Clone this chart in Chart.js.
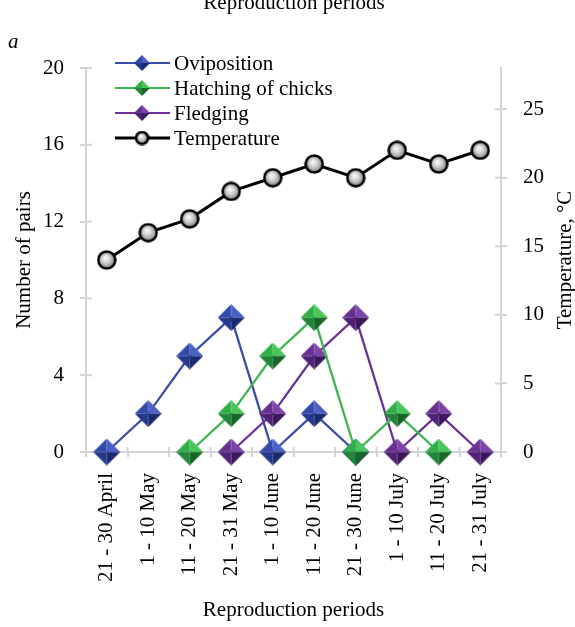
<!DOCTYPE html>
<html>
<head>
<meta charset="utf-8">
<script src="https://cdn.jsdelivr.net/npm/chart.js@4/dist/chart.umd.min.js"></script>
<style>
  html, body { margin: 0; padding: 0; background: #fff; }
  #wrap { position: relative; width: 575px; height: 627px; }
</style>
</head>
<body>
<div id="wrap"><canvas id="chart" width="575" height="627"></canvas></div>
<script>
const periods = ['21 - 30 April', '1 - 10 May', '11 - 20 May', '21 - 31 May', '1 - 10 June',
    '11 - 20 June', '21 - 30 June', '1 - 10 July', '11 - 20 July', '21 - 31 July'];
const oviposition = [0, 2, 5, 7, 0, 2, 0, null, null, null];
const hatching = [null, null, 0, 2, 5, 7, 0, 2, 0, null];
const fledging = [null, null, null, 0, 2, 5, 7, 0, 2, 0];
const temperature = [14, 16, 17, 19, 20, 21, 20, 22, 21, 22];
const pairTicks = [0, 4, 8, 12, 16, 20];
const tempTicks = [0, 5, 10, 15, 20, 25];

const serif = '"Liberation Serif", "Times New Roman", serif';
const axisGray = '#d4d4d4';

// shaded diamond marker, like the pyramid markers in excel
function diamond(size, light, mid, dark, darker) {
    const c = document.createElement('canvas');
    c.width = size; c.height = size;
    const g = c.getContext('2d');
    const h = size / 2;
    const tri = (ax, ay, bx, by, col) => {
        g.beginPath();
        g.moveTo(h, h); g.lineTo(ax, ay); g.lineTo(bx, by); g.closePath();
        g.fillStyle = col; g.fill();
    };
    tri(0, h, h, 0, mid);
    tri(h, 0, size, h, light);
    tri(0, h, h, size, dark);
    tri(h, size, size, h, darker);
    return c;
}

function ball(size) {
    const c = document.createElement('canvas');
    c.width = size; c.height = size;
    const g = c.getContext('2d');
    const r = size / 2 - 1.5;
    const grad = g.createRadialGradient(size * 0.42, size * 0.38, 0, size / 2, size / 2, r);
    grad.addColorStop(0, '#ffffff');
    grad.addColorStop(0.5, '#cfcfcf');
    grad.addColorStop(1, '#7e7e7e');
    g.beginPath();
    g.arc(size / 2, size / 2, r, 0, Math.PI * 2);
    g.fillStyle = grad; g.fill();
    g.lineWidth = 2.5; g.strokeStyle = '#000'; g.stroke();
    return c;
}

const blueCols = ['#4a60c4', '#3449ac', '#26388e', '#1b2970'];
const greenCols = ['#48c65a', '#32ae48', '#218638', '#166628'];
const purpleCols = ['#7c44a8', '#663291', '#4f2277', '#3b185b'];

const blueMark = diamond(27, ...blueCols);
const greenMark = diamond(27, ...greenCols);
const purpleMark = diamond(27, ...purpleCols);
const tempMark = ball(20);

const legendItems = [
    { label: 'Oviposition', color: '#3a50a8', mark: diamond(16, ...blueCols) },
    { label: 'Hatching of chicks', color: '#3cb64e', mark: diamond(16, ...greenCols) },
    { label: 'Fledging', color: '#6a3196', mark: diamond(16, ...purpleCols) },
    { label: 'Temperature', color: '#000', mark: ball(15), width: 3 }
];

// legend inside the plot, inner tick marks, extra texts
const extras = {
    id: 'extras',
    beforeDatasetsDraw(chart) {
        const ctx = chart.ctx;
        const area = chart.chartArea;
        ctx.save();
        ctx.strokeStyle = axisGray;
        ctx.lineWidth = 2;
        ctx.beginPath();
        const yl = chart.scales.y;
        yl.ticks.forEach((t, i) => {
            const p = yl.getPixelForTick(i);
            ctx.moveTo(area.left, p); ctx.lineTo(area.left + 6, p);
        });
        const yr = chart.scales.y2;
        yr.ticks.forEach((t, i) => {
            const p = yr.getPixelForTick(i);
            ctx.moveTo(area.right - 6, p); ctx.lineTo(area.right, p);
        });
        const step = (area.right - area.left) / periods.length;
        for (let i = 0; i <= periods.length; i++) {
            const x = area.left + i * step;
            ctx.moveTo(x, area.bottom - 5); ctx.lineTo(x, area.bottom);
        }
        ctx.stroke();
        ctx.restore();
    },
    afterDraw(chart) {
        const ctx = chart.ctx;
        ctx.save();
        ctx.fillStyle = '#000';
        ctx.font = '21px ' + serif;
        ctx.textBaseline = 'middle';
        legendItems.forEach((it, i) => {
            const y = 63 + i * 25;
            ctx.strokeStyle = it.color;
            ctx.lineWidth = it.width || 2.2;
            ctx.beginPath();
            ctx.moveTo(115, y); ctx.lineTo(170, y);
            ctx.stroke();
            ctx.drawImage(it.mark, 142 - it.mark.width / 2, y - it.mark.height / 2);
            ctx.fillText(it.label, 174, y + 1);
        });

        // right axis title, reads bottom to top
        ctx.save();
        ctx.translate(565, (chart.chartArea.top + chart.chartArea.bottom) / 2);
        ctx.rotate(-Math.PI / 2);
        ctx.textAlign = 'center';
        ctx.fillText('Temperature, °C', 0, 0);
        ctx.restore();

        // cut off title at the top and panel letter
        ctx.textAlign = 'center';
        ctx.textBaseline = 'alphabetic';
        ctx.fillText('Reproduction periods', 294, 9);
        ctx.textAlign = 'left';
        ctx.font = 'italic 21px ' + serif;
        ctx.fillText('a', 8, 48);
        ctx.restore();
    }
};

Chart.defaults.font.family = serif;
Chart.defaults.font.size = 21;
Chart.defaults.color = '#000';

new Chart(document.getElementById('chart'), {
    type: 'line',
    data: {
        labels: periods,
        datasets: [
            {
                label: 'Oviposition', data: oviposition, yAxisID: 'y', order: 3,
                borderColor: '#3a4ea6', borderWidth: 2.3, pointStyle: blueMark, clip: false
            },
            {
                label: 'Hatching of chicks', data: hatching, yAxisID: 'y', order: 1,
                borderColor: '#3cb64e', borderWidth: 2.3, pointStyle: greenMark, clip: false
            },
            {
                label: 'Fledging', data: fledging, yAxisID: 'y', order: 2,
                borderColor: '#6a3196', borderWidth: 2.3, pointStyle: purpleMark, clip: false
            },
            {
                label: 'Temperature', data: temperature, yAxisID: 'y2', order: 0,
                borderColor: '#000', borderWidth: 3, pointStyle: tempMark, clip: false
            }
        ]
    },
    options: {
        responsive: false,
        animation: false,
        spanGaps: false,
        layout: { padding: { top: 68, left: 0, right: 0, bottom: 0 } },
        plugins: {
            legend: { display: false },
            tooltip: { enabled: false }
        },
        scales: {
            x: {
                offset: true,
                grid: { offset: true, drawOnChartArea: false, color: axisGray, lineWidth: 2, tickLength: 5 },
                border: { color: axisGray, width: 2 },
                ticks: { minRotation: 90, maxRotation: 90, padding: 16, autoSkip: false },
                title: { display: true, text: 'Reproduction periods', padding: { top: 4, bottom: 4 } },
                afterFit: s => { s.height = 175; }
            },
            y: {
                position: 'left',
                min: 0, max: 20,
                afterBuildTicks: s => { s.ticks = pairTicks.map(v => ({ value: v })); },
                grid: { drawOnChartArea: false, color: axisGray, lineWidth: 2, tickLength: 6 },
                border: { color: axisGray, width: 2 },
                ticks: { padding: 16 },
                title: { display: true, text: 'Number of pairs', padding: { top: 12, bottom: 2 } },
                afterFit: s => { s.width = 86; }
            },
            y2: {
                position: 'right',
                min: 0, max: 28,
                afterBuildTicks: s => { s.ticks = tempTicks.map(v => ({ value: v })); },
                grid: { drawOnChartArea: false, color: axisGray, lineWidth: 2, tickLength: 6 },
                border: { color: axisGray, width: 2 },
                ticks: { padding: 16 },
                afterFit: s => { s.width = 74; }
            }
        }
    },
    plugins: [extras]
});
</script>
</body>
</html>
